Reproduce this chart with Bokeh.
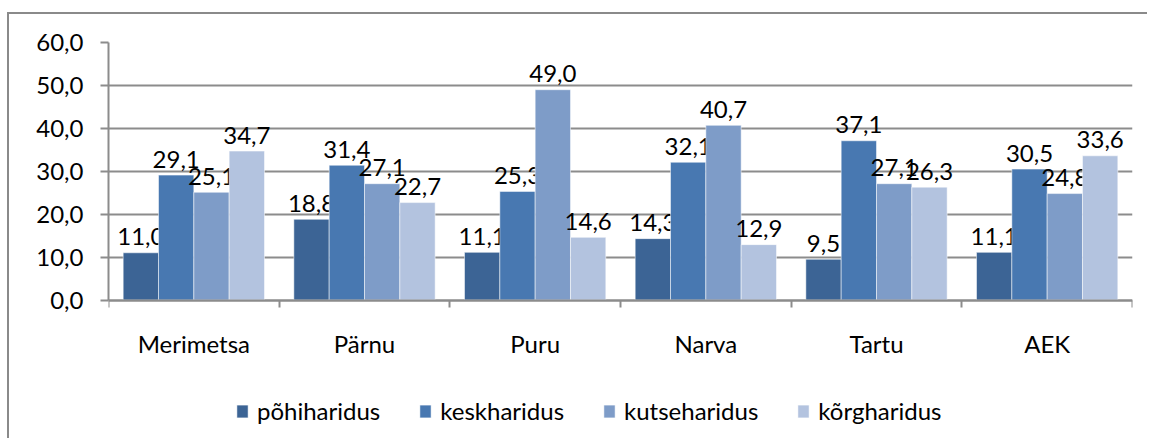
from bokeh.plotting import figure
from bokeh.models import (Range1d, FixedTicker, ColumnDataSource, Legend, LegendItem, LinearAxis)
from bokeh.layouts import column
from bokeh.core.properties import value
from bokeh.embed import file_html
from bokeh.resources import INLINE

categories = ["Merimetsa", "Pärnu", "Puru", "Narva", "Tartu", "AEK"]
series_names = ["põhiharidus", "keskharidus", "kutseharidus", "kõrgharidus"]
pohiharidus = [11.0, 18.8, 11.1, 14.3, 9.5, 11.1]
keskharidus = [29.1, 31.4, 25.3, 32.1, 37.1, 30.5]
kutseharidus = [25.1, 27.1, 49.0, 40.7, 27.1, 24.8]
korgharidus = [34.7, 22.7, 14.6, 12.9, 26.3, 33.6]
y_ticks = [0, 10, 20, 30, 40, 50, 60]

series_values = [pohiharidus, keskharidus, kutseharidus, korgharidus]
colors = ["#3C6495", "#4878B1", "#7E9CC8", "#B3C3DF"]

FONT = "Lato"
GRID = "#8C8C8C"

# layout: frame spans 42..428 px vertically; value axis occupies 42..299.5 px
FRAME_TOP, AXIS_Y, FRAME_BOTTOM = 42.0, 299.5, 428.0
px_per_unit = (AXIS_Y - FRAME_TOP) / 60.0
y_start = -(FRAME_BOTTOM - AXIS_Y) / px_per_unit

p = figure(width=1138, height=424, output_backend="svg", toolbar_location=None,
           x_range=Range1d(0, len(categories)), y_range=Range1d(y_start, 60),
           x_axis_location=None,
           min_border_left=99, min_border_right=15, min_border_top=28, min_border_bottom=10)
p.outline_line_color = None
p.background_fill_color = "white"
p.border_fill_color = "white"

# category axis fixed at value 0
xaxis = LinearAxis(fixed_location=0)
xaxis.ticker = FixedTicker(ticks=[i + 0.5 for i in range(len(categories))],
                           minor_ticks=list(range(len(categories) + 1)))
xaxis.major_label_overrides = {i + 0.5: c for i, c in enumerate(categories)}
xaxis.major_tick_out = 0
xaxis.major_tick_in = 0
xaxis.minor_tick_out = 7
xaxis.minor_tick_in = 0
xaxis.minor_tick_line_color = GRID
xaxis.minor_tick_line_width = 2
xaxis.axis_line_color = GRID
xaxis.axis_line_width = 2
xaxis.major_label_standoff = 22
xaxis.major_label_text_font = FONT
xaxis.major_label_text_font_size = "24px"
xaxis.major_label_text_color = "black"
p.add_layout(xaxis, "below")

p.yaxis.ticker = FixedTicker(ticks=y_ticks, minor_ticks=[])
p.yaxis.bounds = (0, 60)
p.yaxis.major_label_overrides = {t: f"{t:.1f}".replace(".", ",") for t in y_ticks}
p.yaxis.major_tick_out = 8
p.yaxis.major_tick_in = 0
p.yaxis.major_tick_line_color = GRID
p.yaxis.major_tick_line_width = 2
p.yaxis.axis_line_color = GRID
p.yaxis.axis_line_width = 2
p.yaxis.major_label_standoff = 17
p.yaxis.major_label_text_font = FONT
p.yaxis.major_label_text_font_size = "24px"
p.yaxis.major_label_text_color = "black"

p.xgrid.grid_line_color = None
p.ygrid.grid_line_color = GRID
p.ygrid.grid_line_width = 2

bar_w = 0.207
items = []
for k, (name, vals, col) in enumerate(zip(series_names, series_values, colors)):
    xs = [i + 0.5 + (k - 1.5) * bar_w for i in range(len(categories))]
    src = ColumnDataSource(dict(x=xs, top=vals,
                                label=[f"{v:.1f}".replace(".", ",") for v in vals]))
    r = p.vbar(x="x", top="top", bottom=0, width=bar_w, source=src,
               fill_color=col, line_color="white", line_alpha=0.5, line_width=1)
    p.text(x="x", y="top", text="label", source=src, text_align="center",
           text_baseline="alphabetic", y_offset=-16, text_font=value(FONT),
           text_font_size="24px", text_color="black")
    items.append(LegendItem(label=name, renderers=[r]))

legend = Legend(items=items, location=(127, 3), orientation="horizontal",
                glyph_width=14, glyph_height=16, label_standoff=8, spacing=38,
                padding=0, margin=0, border_line_color=None, background_fill_alpha=0,
                label_text_font=FONT, label_text_font_size="24px",
                label_text_color="black")
p.add_layout(legend)

page = column(p, styles={"border-left": "2px solid #8A8A8A", "border-top": "2px solid #8A8A8A",
                         "margin-top": "12px", "margin-left": "7px"})

open("out.html", "w").write(file_html(page, INLINE))
